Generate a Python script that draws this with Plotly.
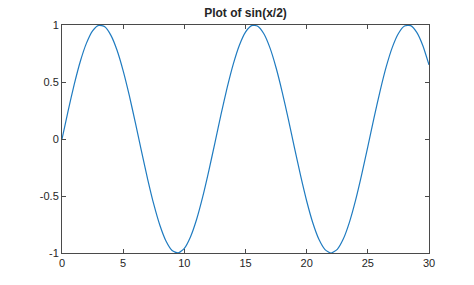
import plotly.graph_objects as go

# x values (0 to 30, step 0.5) and y values
x_vals = [i * 0.5 for i in range(61)]
y_vals = [0.000, 0.247, 0.479, 0.682, 0.841, 0.949, 0.997, 0.984, 0.909, 0.778,
          0.598, 0.382, 0.141, -0.108, -0.351, -0.572, -0.757, -0.895, -0.978, -0.999,
          -0.959, -0.859, -0.706, -0.508, -0.279, -0.033, 0.215, 0.450, 0.657, 0.823,
          0.938, 0.995, 0.989, 0.923, 0.799, 0.625, 0.412, 0.174, -0.075, -0.320,
          -0.544, -0.735, -0.880, -0.970, -1.000, -0.968, -0.876, -0.729, -0.537, -0.311,
          -0.066, 0.183, 0.420, 0.632, 0.804, 0.926, 0.991, 0.994, 0.935, 0.818, 0.650]

x_ticks = [0, 5, 10, 15, 20, 25, 30]
x_ticklabels = ["0", "5", "10", "15", "20", "25", "30"]
y_ticks = [-1, -0.5, 0, 0.5, 1]
y_ticklabels = ["-1", "-0.5", "0", "0.5", "1"]

fig = go.Figure()
fig.add_trace(go.Scatter(x=x_vals, y=y_vals, mode="lines",
                         line=dict(color="#1f7bc0", width=1.2, shape="spline", smoothing=0.6),
                         showlegend=False, hoverinfo="skip"))

axis_common = dict(showline=True, linecolor="#4a4a4a", linewidth=1, mirror="ticks",
                   ticks="inside", ticklen=4, tickcolor="#4a4a4a", tickwidth=1,
                   showgrid=False, zeroline=False,
                   tickfont=dict(family="Liberation Sans, Arial, sans-serif", size=11, color="#262626"))

fig.update_xaxes(range=[0, 30], tickvals=x_ticks, ticktext=x_ticklabels, **axis_common)
fig.update_yaxes(range=[-1, 1], tickvals=y_ticks, ticktext=y_ticklabels, **axis_common)

fig.update_layout(
    width=474, height=285,
    margin=dict(l=62, r=45, t=25, b=32),
    paper_bgcolor="white", plot_bgcolor="white",
    title=dict(text="<b>Plot of sin(x/2)</b>", x=245.5 / 474, xanchor="center", xref="container",
               y=1 - 13 / 285, yanchor="middle",
               font=dict(family="Liberation Sans, Arial, sans-serif", size=12, color="#262626")),
)

fig.write_html("out.html")
